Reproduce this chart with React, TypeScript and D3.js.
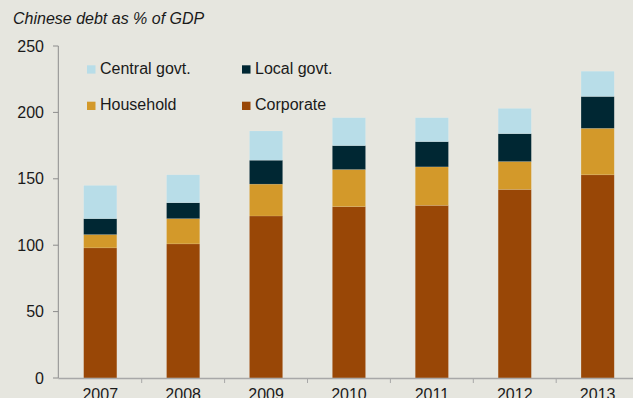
import React from "react";
import * as d3 from "d3";

const years = ["2007", "2008", "2009", "2010", "2011", "2012", "2013"];
const corporate = [98, 101, 122, 129, 130, 142, 153];
const household = [10, 19, 24, 28, 29, 21, 35];
const localGovt = [12, 12, 18, 18, 19, 21, 24];
const centralGovt = [25, 21, 22, 21, 18, 19, 19];
const yTicks = [0, 50, 100, 150, 200, 250];

const seriesKeys = ["corporate", "household", "local", "central"];
const seriesLabels: Record<string, string> = {
  corporate: "Corporate",
  household: "Household",
  local: "Local govt.",
  central: "Central govt.",
};
const colors: Record<string, string> = {
  corporate: "#994706",
  household: "#D3992A",
  local: "#002733",
  central: "#B8DDE8",
};

const W = 633;
const H = 398;
const FONT = "'Liberation Sans', Arial, sans-serif";

export default function App() {
  const rows = years.map((y, i) => ({
    year: y,
    corporate: corporate[i],
    household: household[i],
    local: localGovt[i],
    central: centralGovt[i],
  }));
  const stack = d3.stack<any>().keys(seriesKeys)(rows);

  const x = d3.scaleBand().domain(years).range([58.8, 58.8 + 7 * 82.9]).paddingInner(0.6).paddingOuter(0.3);
  const y = d3.scaleLinear().domain([0, 250]).range([378, 46]);

  const step = x.step();
  const x0 = 58.8;

  const legend = [
    { key: "central", lx: 87, ly: 65.3 },
    { key: "local", lx: 242, ly: 65.3 },
    { key: "household", lx: 87, ly: 101.7 },
    { key: "corporate", lx: 242, ly: 101.7 },
  ];

  return (
    <svg
      width={W}
      height={H}
      style={{ position: "absolute", left: 0, top: 0, background: "#E6E6DF" }}
      fontFamily={FONT}
    >
      <rect x={0} y={0} width={W} height={H} fill="#E6E6DF" />
      <text x={13} y={24} fontSize={16} fontStyle="italic" fill="#1a1a1a">
        Chinese debt as % of GDP
      </text>

      {/* bars */}
      {stack.map((s) =>
        s.map((d, i) => (
          <rect
            key={s.key + i}
            x={x(years[i])!}
            y={y(d[1])}
            width={x.bandwidth()}
            height={y(d[0]) - y(d[1])}
            fill={colors[s.key]}
            stroke="rgba(255,255,255,0.18)"
            strokeWidth={0.6}
          />
        ))
      )}

      {/* y axis */}
      <line x1={58.3} x2={58.3} y1={46} y2={378} stroke="#8c8c8c" strokeWidth={1} />
      {yTicks.map((t) => (
        <g key={t}>
          <line x1={53} x2={58.3} y1={y(t)} y2={y(t)} stroke="#8c8c8c" strokeWidth={1} />
          <text x={44} y={y(t)} dy="0.35em" textAnchor="end" fontSize={16} fill="#1a1a1a">
            {t}
          </text>
        </g>
      ))}

      {/* x axis */}
      <line x1={58.3} x2={W} y1={378.5} y2={378.5} stroke="#a8a8a8" strokeWidth={1.5} />
      {years.map((yr, i) => (
        <line
          key={"t" + yr}
          x1={x0 + step * (i + 1)}
          x2={x0 + step * (i + 1)}
          y1={378}
          y2={383}
          stroke="#a8a8a8"
          strokeWidth={1}
        />
      ))}
      {years.map((yr) => (
        <text
          key={"l" + yr}
          x={x(yr)! + x.bandwidth() / 2}
          y={399.5}
          textAnchor="middle"
          fontSize={16}
          fill="#1a1a1a"
        >
          {yr}
        </text>
      ))}

      {/* legend */}
      {legend.map((l) => (
        <g key={l.key}>
          <rect x={l.lx} y={l.ly} width={8.5} height={8.3} fill={colors[l.key]} />
          <text x={l.lx + 13} y={l.ly + 8.7} fontSize={16} fill="#1a1a1a">
            {seriesLabels[l.key]}
          </text>
        </g>
      ))}
    </svg>
  );
}
